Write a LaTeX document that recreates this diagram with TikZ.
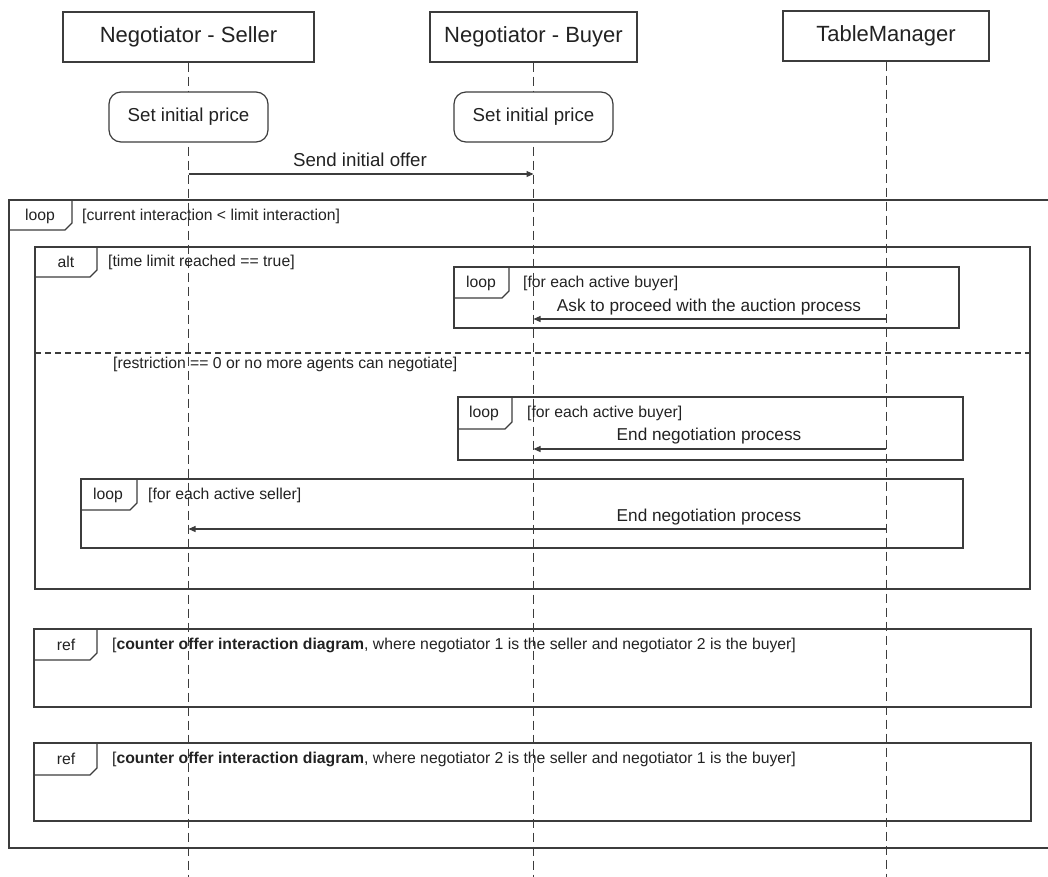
\documentclass[tikz,border=0pt]{standalone}
\usepackage{fontspec}
\setmainfont{Liberation Sans}
\usetikzlibrary{arrows.meta}

\definecolor{linegray}{HTML}{3C3C3C}
\definecolor{inkgray}{HTML}{222222}

\newcommand{\headfont}{\fontsize{22}{26}\selectfont}
\newcommand{\msgfont}{\fontsize{18.7}{22}\selectfont}
\newcommand{\loopmsgfont}{\fontsize{17.2}{21}\selectfont}
\newcommand{\smallfont}{\fontsize{15.75}{19}\selectfont}

% cut-corner label tab of an interaction fragment:
% #1 left x, #2 top y, #3 tab right x, #4 tab bottom y
\newcommand{\fragtab}[4]{%
  \draw[frame] (#3,#2) -- (#3,#4-7) -- (#3-7,#4) -- (#1,#4);}

\begin{document}
\begin{tikzpicture}[x=1pt,y=-1pt,
  every node/.style={text=inkgray},
  frame/.style={draw=linegray,line width=1.2pt},
  actor/.style={draw=linegray,line width=1.2pt,fill=white,minimum height=50pt,font=\headfont,inner sep=0pt},
  action/.style={draw=linegray,line width=1.2pt,fill=white,rounded corners=12pt,minimum width=159pt,minimum height=50pt,font=\msgfont,inner sep=0pt},
  lifeline/.style={draw=linegray,line width=1pt,dash pattern=on 9pt off 5pt},
  divider/.style={draw=linegray,line width=1.2pt,dash pattern=on 6pt off 4pt},
  msg/.style={draw=linegray,line width=1.1pt,-{Triangle[length=7pt,width=6pt]}},
  msglabel/.style={font=\msgfont,inner sep=0pt},
  loopmsglabel/.style={font=\loopmsgfont,inner sep=0pt},
  taglabel/.style={font=\smallfont,inner sep=0pt},
  guard/.style={font=\smallfont,inner sep=0pt,anchor=west}]

\useasboundingbox (0,0) rectangle (1048,876);

% participants
\node[actor,minimum width=251pt] (seller) at (188.5,37) {Negotiator - Seller};
\node[actor,minimum width=207pt] (buyer)  at (533.5,37) {Negotiator - Buyer};
\node[actor,minimum width=206pt] (tm)     at (886,36)   {TableManager};

% lifelines
\coordinate (sellerEnd) at (188.5,880);
\coordinate (buyerEnd)  at (533.5,880);
\coordinate (tmEnd)     at (886,880);
\draw[lifeline] (seller.south) -- (sellerEnd);
\draw[lifeline] (buyer.south)  -- (buyerEnd);
\draw[lifeline] (tm.south)     -- (tmEnd);

% initial actions
\node[action] (priceS) at (188.5,117) {Set initial price};
\node[action] (priceB) at (533.5,117) {Set initial price};

% initial offer
\coordinate (offerS) at (188.5,174);
\coordinate (offerB) at (533.5,174);
\draw[msg] (offerS) -- (offerB);
\node[msglabel] (offerLbl) at (360,160) {Send initial offer};

% outer loop (open to the right)
\draw[frame] (1060,200) -- (9,200) -- (9,848) -- (1060,848);
\fragtab{9}{200}{72}{230}
\node[taglabel] (loopOuter) at (40,216) {loop};
\node[guard] (loopOuterG) at (82,216) {[current interaction < limit interaction]};

% alt fragment
\draw[frame] (35,247) rectangle (1030,589);
\fragtab{35}{247}{97}{277}
\node[taglabel] (altTag) at (66,262) {alt};
\node[guard] (altG1) at (108,262) {[time limit reached == true]};
\draw[divider] (35,353) -- (1030,353);
\node[guard] (altG2) at (113,364) {[restriction == 0 or no more agents can negotiate]};

% loop: ask each buyer to proceed
\draw[frame] (454,267) rectangle (959,328);
\fragtab{454}{267}{509}{298}
\node[taglabel] (loopA) at (481,283) {loop};
\node[guard] (loopAG) at (523,283) {[for each active buyer]};
\coordinate (askTM) at (886,319);
\coordinate (askB)  at (533.5,319);
\draw[msg] (askTM) -- (askB);
\node[loopmsglabel] (askLbl) at (709,307) {Ask to proceed with the auction process};

% loop: end negotiation with each buyer
\draw[frame] (458,397) rectangle (963,460);
\fragtab{458}{397}{512}{429}
\node[taglabel] (loopB) at (484,413) {loop};
\node[guard] (loopBG) at (527,413) {[for each active buyer]};
\coordinate (endTM1) at (886,449);
\coordinate (endB)   at (533.5,449);
\draw[msg] (endTM1) -- (endB);
\node[loopmsglabel] (endLblB) at (709,436) {End negotiation process};

% loop: end negotiation with each seller
\draw[frame] (81,479) rectangle (963,548);
\fragtab{81}{479}{137}{510}
\node[taglabel] (loopC) at (108,495) {loop};
\node[guard] (loopCG) at (148,495) {[for each active seller]};
\coordinate (endTM2) at (886,529);
\coordinate (endS)   at (188.5,529);
\draw[msg] (endTM2) -- (endS);
\node[loopmsglabel] (endLblS) at (709,517) {End negotiation process};

% referenced interactions
\draw[frame] (34,629) rectangle (1031,707);
\fragtab{34}{629}{97}{660}
\node[taglabel] (refA) at (66,645) {ref};
\node[guard] (refAG) at (112,645) {[\textbf{counter offer interaction diagram}, where negotiator 1 is the seller and negotiator 2 is the buyer]};

\draw[frame] (34,743) rectangle (1031,821);
\fragtab{34}{743}{97}{775}
\node[taglabel] (refB) at (66,759) {ref};
\node[guard] (refBG) at (112,759) {[\textbf{counter offer interaction diagram}, where negotiator 2 is the seller and negotiator 1 is the buyer]};

\end{tikzpicture}
\end{document}
